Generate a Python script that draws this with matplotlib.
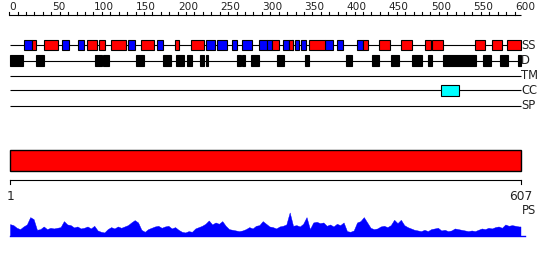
import matplotlib
matplotlib.use("Agg")
import matplotlib.pyplot as plt
import numpy as np
from matplotlib.patches import Rectangle

# ---------------- data ----------------
seq_len = 607
track_names = ["SS", "D", "TM", "CC", "SP"]

helices = [(28, 31), (42, 57), (93, 104), (107, 113), (121, 138), (157, 172),
           (197, 201), (216, 231), (312, 320), (333, 336), (357, 374),
           (420, 426), (439, 452), (466, 478), (494, 500), (502, 514),
           (554, 564), (574, 584), (591, 607)]
strands = [(18, 27), (63, 70), (82, 88), (142, 149), (176, 182), (234, 244),
           (247, 258), (265, 270), (277, 288), (297, 305), (307, 312),
           (325, 332), (336, 337), (340, 343), (347, 352), (375, 384),
           (390, 396), (413, 419)]
disorder = [(1, 16), (32, 41), (102, 110), (112, 114), (116, 118), (151, 159),
            (183, 192), (199, 203), (205, 207), (212, 217), (227, 231),
            (234, 235), (271, 275), (277, 279), (288, 291), (292, 296),
            (319, 326), (352, 356), (400, 406), (431, 439), (454, 462),
            (479, 490), (498, 502), (515, 554), (563, 572), (583, 592),
            (605, 607)]
transmembrane = []
coiled_coil = [(513, 534)]
signal_peptide = []

ruler_ticks = list(range(0, 601, 10))
ruler_labels = list(range(0, 601, 50))

profile_pos = list(range(1, 606, 4)) + [607]
profile_raw = [35, 32, 24, 20, 28, 34, 56, 50, 18, 20, 28, 20, 24, 22, 24, 26,
               44, 34, 32, 25, 28, 22, 24, 28, 22, 30, 16, 12, 10, 20, 26, 22,
               28, 24, 28, 32, 40, 47, 40, 18, 12, 20, 24, 28, 30, 24, 28, 30,
               22, 26, 18, 12, 10, 14, 12, 22, 26, 30, 36, 46, 34, 40, 36, 44,
               30, 20, 18, 16, 14, 16, 20, 26, 22, 30, 32, 44, 36, 28, 26, 22,
               28, 30, 34, 70, 30, 32, 28, 36, 56, 20, 40, 42, 38, 40, 30, 34,
               28, 36, 32, 40, 14, 12, 16, 40, 44, 56, 40, 24, 20, 22, 28, 30,
               26, 32, 48, 38, 48, 32, 26, 22, 18, 16, 14, 18, 14, 20, 22, 24,
               16, 18, 14, 16, 22, 20, 18, 16, 14, 16, 14, 18, 22, 20, 24, 22,
               26, 28, 24, 34, 30, 32, 30, 28, 28]
profile_scores = [v / 75.0 for v in profile_raw]

# ---------------- layout ----------------
W, H = 550, 260
fig = plt.figure(figsize=(W / 100, H / 100), dpi=100)
px_per_res = 510.5 / 606.0
x0 = 1 - 10 / px_per_res
x1 = x0 + W / px_per_res

ax = fig.add_axes([0, 0, 1, 1])
ax.set_xlim(x0, x1)
ax.set_ylim(H, 0)
ax.axis("off")

font = "DejaVu Sans"
lw = 0.8

# top ruler
ruler_y = 15.3
ax.plot([0, seq_len], [ruler_y, ruler_y], color="black", lw=lw, solid_capstyle="butt")
for t in ruler_ticks:
    ax.plot([t, t], [ruler_y, ruler_y - 3], color="black", lw=lw)
for t in ruler_labels:
    ax.text(t + 0.5, ruler_y - 2.8, str(t), ha="left", va="bottom",
            fontsize=7.6, family=font, color="#222222")

# tracks
track_y = {"SS": 45.2, "D": 60.6, "TM": 75.6, "CC": 90.4, "SP": 105.6}
box_h = 10.5
for name in track_names:
    y = track_y[name]
    ax.plot([1, seq_len], [y, y], color="black", lw=lw, solid_capstyle="butt", zorder=1)
    ax.text(seq_len + 0.5, y, name, ha="left", va="center", fontsize=8.3,
            family=font, color="#222222")


def draw_boxes(segs, y, color):
    for s, e in segs:
        ax.add_patch(Rectangle((s - 0.5, y - box_h / 2), e - s + 1, box_h,
                               facecolor=color, edgecolor="black", lw=0.8, zorder=3))


draw_boxes(strands, track_y["SS"], "#0000ff")
draw_boxes(helices, track_y["SS"], "#ff0000")
draw_boxes(disorder, track_y["D"], "black")
draw_boxes(transmembrane, track_y["TM"], "#888888")
draw_boxes(coiled_coil, track_y["CC"], "#00ffff")
draw_boxes(signal_peptide, track_y["SP"], "#888888")

# domain bar
ax.add_patch(Rectangle((0.5, 150.3), seq_len, 20.3, facecolor="#ff0000",
                       edgecolor="black", lw=1.0, zorder=3))

# bottom ruler
by = 180.4
ax.plot([1, seq_len], [by, by], color="black", lw=lw)
ax.plot([1, 1], [by, by + 4], color="black", lw=lw)
ax.plot([seq_len, seq_len], [by, by + 4], color="black", lw=lw)
ax.text(1.5, 190.0, "1", ha="center", va="top", fontsize=8.8, family=font, color="#222222")
ax.text(seq_len, 190.0, str(seq_len), ha="center", va="top", fontsize=8.8,
        family=font, color="#222222")
ax.text(seq_len + 2, 211.0, "PS", ha="left", va="center", fontsize=8.3,
        family=font, color="#222222")

# profile
base_px = 235.8
prof_h = 25.0
ax2 = fig.add_axes([0, (H - base_px) / H, 1, prof_h / H])
ax2.set_xlim(x0, x1)
ax2.set_ylim(0, 1)
ax2.axis("off")
ax2.fill_between(profile_pos, 0, profile_scores, color="#0000ff", lw=0.3,
                 edgecolor="#0000ff")
ax2.plot([1, seq_len + 5], [0, 0], color="#0000ff", lw=1.0, clip_on=False)

fig.savefig("out.png", dpi=100)
